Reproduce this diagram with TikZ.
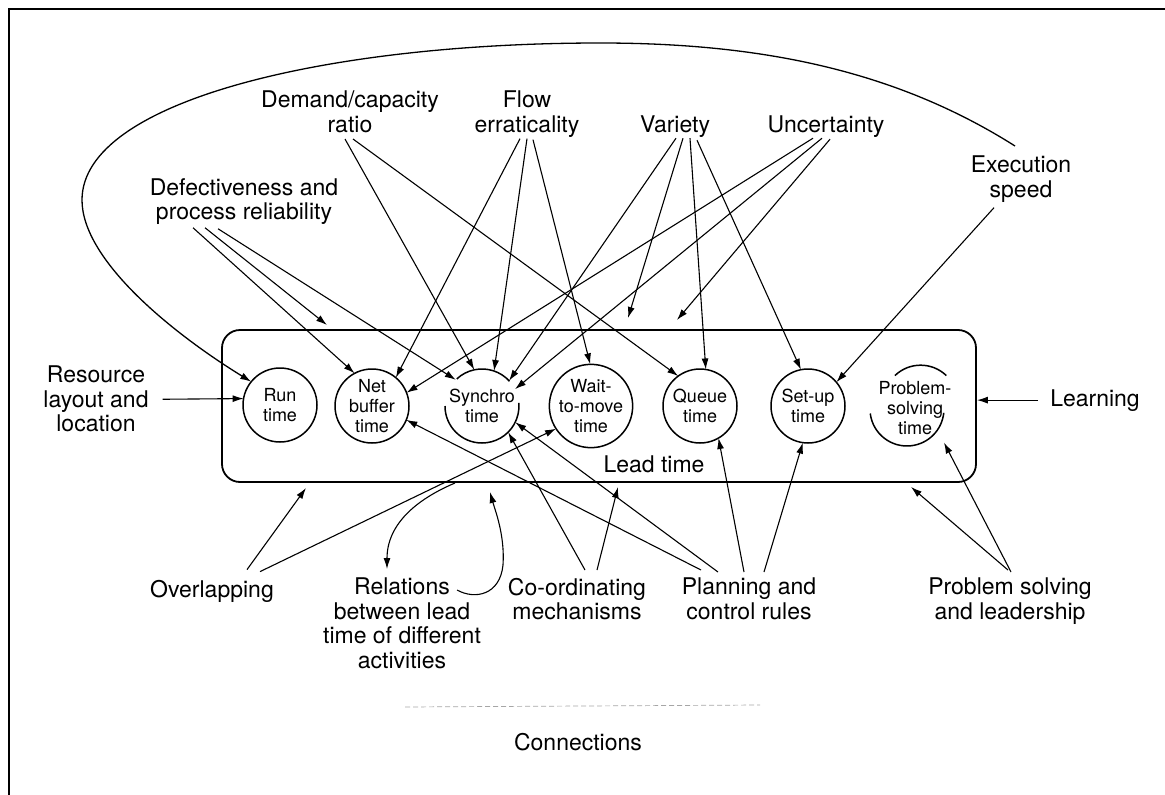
\documentclass[tikz,border=0pt]{standalone}
\usepackage{fontspec}
\setmainfont{TeX Gyre Heros}
\usetikzlibrary{arrows.meta}
\begin{document}
\begin{tikzpicture}[x=1pt,y=-1pt,
  lbl/.style={inner sep=0pt, align=center, font=\fontsize{23}{24.5}\selectfont},
  circ/.style={circle, minimum size=74pt, inner sep=0pt, outer sep=0pt, align=center, font=\fontsize{18}{20}\selectfont},
  circd/.style={circ, draw, line width=1.5pt},
  arcline/.style={line width=1.5pt},
  arr/.style={-{Latex[length=11pt,width=7pt]}, line width=1.1pt},
]
\useasboundingbox (0,0) rectangle (1165,795);
\draw[line width=1.8pt] (9,795) -- (9,9) -- (1165,9);

% Lead time box
\node[draw, rounded corners=18pt, line width=1.8pt, minimum width=754pt, minimum height=152pt, inner sep=0pt] (box) at (599,406) {};
\node[lbl, anchor=base] (lead) at (654,472) {Lead time};

% time components
\node[circd] (run) at (280,405) {Run\\time};
\node[circd] (net) at (372,406) {Net\\buffer\\time};
\node[circ] (sync) at (482,406) {Synchro\\time};
\node[circd] (wait) at (591,406) {Wait-\\to-move\\time};
\node[circd] (queue) at (700,406) {Queue\\time};
\node[circd] (setup) at (808,406) {Set-up\\time};
\node[circ] (psolve) at (915,408) {Problem-\\solving\\time};
\draw[arcline] (sync.42) arc[start angle=42, end angle=133, radius=37pt];
\draw[arcline] (sync.180) arc[start angle=180, end angle=365, radius=37pt];
\draw[arcline] (psolve.46) arc[start angle=46, end angle=134, radius=37pt];
\draw[arcline] (psolve.187) arc[start angle=187, end angle=354, radius=37pt];

% factor labels
\node[lbl, anchor=north] (demand) at (350,91) {Demand/capacity\\ratio};
\node[lbl, anchor=north] (flow) at (527,91) {Flow\\erraticality};
\node[lbl, anchor=base] (variety) at (675,132) {Variety};
\node[lbl, anchor=base] (uncert) at (826,132) {Uncertainty};
\node[lbl, anchor=north] (exec) at (1021,156) {Execution\\speed};
\node[lbl, anchor=north] (defect) at (244,178) {Defectiveness and\\process reliability};
\node[lbl, anchor=north] (res) at (96,366) {Resource\\layout and\\location};
\node[lbl, anchor=base] (learn) at (1095,406) {Learning};
\node[lbl, anchor=base] (overlap) at (212,597) {Overlapping};
\node[lbl, anchor=north] (rel) at (402,578) {Relations\\between lead\\time of different\\activities};
\node[lbl, anchor=north] (coord) at (577,578) {Co-ordinating\\mechanisms};
\node[lbl, anchor=north] (plan) at (749,578) {Planning and\\control rules};
\node[lbl, anchor=north] (psl) at (1010,578) {Problem solving\\and leadership};
\node[lbl, anchor=base] (conn) at (578,750) {Connections};

% free ends at the box
\coordinate (tA) at (327,325);
\coordinate (tB) at (628,318);
\coordinate (tC) at (677,320);
\coordinate (bA) at (306,488);
\coordinate (bB) at (490,492);
\coordinate (bC) at (618,487);
\coordinate (bD) at (911,487);
\coordinate (rA) at (455,483);

% defectiveness
\draw[arr] ([xshift=-51pt,yshift=-3pt]defect.south) -- (net.118);
\draw[arr] ([xshift=-39pt,yshift=-3pt]defect.south) -- (tA);
\draw[arr] ([xshift=-26pt,yshift=-4pt]defect.south) -- (sync.135);
% demand/capacity
\draw[arr] ([xshift=-5pt,yshift=-6pt]demand.south) -- (sync.102);
\draw[arr] ([xshift=3pt,yshift=-6pt]demand.south) -- (queue.126);
% flow erraticality
\draw[arr] ([xshift=-7pt,yshift=-1pt]flow.south) -- (net.50);
\draw[arr] ([xshift=0pt,yshift=-1pt]flow.south) -- (sync.71);
\draw[arr] ([xshift=6pt,yshift=-2pt]flow.south) -- (wait.91);
% variety
\draw[arr] ([xshift=1pt,yshift=-1pt]variety.south) -- (sync.43);
\draw[arr] ([xshift=8pt,yshift=-1pt]variety.south) -- (tB);
\draw[arr] ([xshift=15pt,yshift=-1pt]variety.south) -- (queue.81);
\draw[arr] ([xshift=22pt,yshift=-3pt]variety.south) -- (setup.101);
% uncertainty
\draw[arr] ([xshift=-13pt,yshift=-1pt]uncert.south) -- (net.21);
\draw[arr] ([xshift=-4pt,yshift=-1pt]uncert.south) -- (sync.27);
\draw[arr] ([xshift=4pt,yshift=-2pt]uncert.south) -- (tC);
% execution speed
\draw[arr] ([xshift=-27pt,yshift=-5pt]exec.south) -- (setup.40);
\draw[arr, line width=1.3pt] ([xshift=-6pt,yshift=10pt]exec.north)
  .. controls (895,70) and (760,43) .. (600,43)
  .. controls (330,43) and (82,100) .. (82,200)
  .. controls (82,260) and (172,333) .. (run.141);
% resource, learning
\draw[arr] ([xshift=14pt]res.east) -- (run.170);
\draw[arr] ([xshift=-12pt]learn.west) -- (box.east |- learn.west);
% overlapping
\draw[arr] ([xshift=35pt,yshift=10pt]overlap.north) -- (bA);
\draw[arr] ([xshift=48pt,yshift=8pt]overlap.north) -- (wait.213);
% relations
\draw[arr] (rA) .. controls (415,500) and (387,525) .. ([xshift=-15pt,yshift=9pt]rel.north);
\draw[arr] ([xshift=55pt,yshift=-12pt]rel.north) .. controls (475,600) and (500,595) .. (503,565)
  .. controls (505,535) and (495,510) .. (bB);
% co-ordinating
\draw[arr] ([xshift=8pt,yshift=8pt]coord.north) -- (sync.-45);
\draw[arr] ([xshift=20pt,yshift=8pt]coord.north) -- (bC);
% planning
\draw[arr] ([xshift=-48pt,yshift=8pt]plan.north) -- (net.-22);
\draw[arr] ([xshift=-31pt,yshift=6pt]plan.north) -- (sync.-26);
\draw[arr] ([xshift=-5pt,yshift=6pt]plan.north) -- (queue.-60);
\draw[arr] ([xshift=15pt,yshift=6pt]plan.north) -- (setup.-98);
% problem solving
\draw[arr] ([xshift=-2pt,yshift=8pt]psl.north) -- (bD);
\draw[arr] ([xshift=1pt,yshift=6pt]psl.north) -- (psolve.-50);

% faint scan line
\draw[black!35, line width=0.7pt, dash pattern=on 5pt off 3pt] (405,707) -- (760,705);
\end{tikzpicture}
\end{document}
